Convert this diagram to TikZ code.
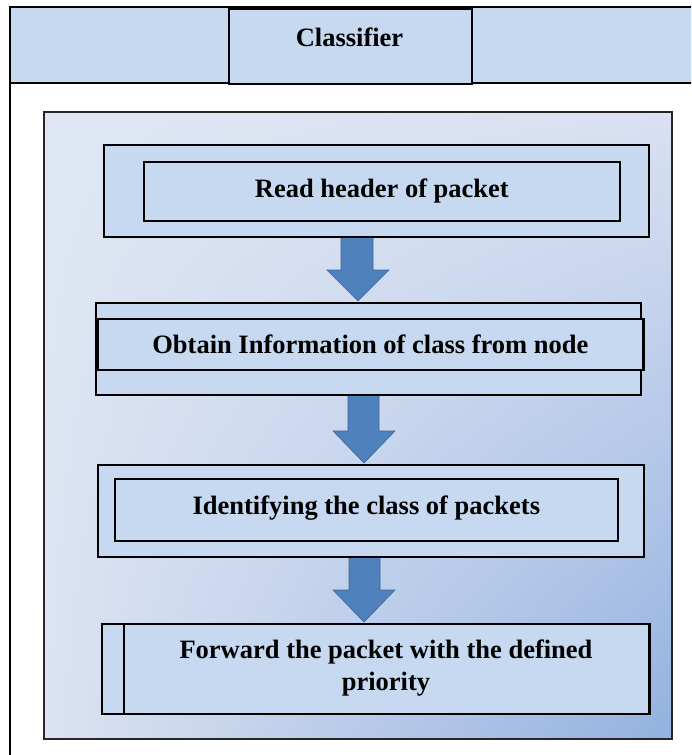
\documentclass[tikz,border=0pt]{standalone}
\usepackage{fontspec}
\setmainfont{Liberation Serif}
\usetikzlibrary{shadings}
\definecolor{boxblue}{HTML}{C6D9F1}
\definecolor{arrowblue}{HTML}{4F81BD}
\definecolor{arrowedge}{HTML}{3D6699}
\definecolor{gUL}{HTML}{DFE6F3}
\definecolor{gUR}{HTML}{D9E1F2}
\definecolor{gLL}{HTML}{DCE3F2}
\definecolor{gLR}{HTML}{93B1DF}
\begin{document}
\begin{tikzpicture}[x=1pt,y=-1pt,
  boxline/.style={draw=black,line width=1.7pt,fill=boxblue,inner sep=0pt,anchor=north west},
  lbl/.style={font=\fontsize{26.5}{32}\selectfont\bfseries,align=center,text=black},
  blockarrow/.style={fill=arrowblue,draw=arrowedge,line width=0.6pt}]
\useasboundingbox (0,0) rectangle (691,755);
\clip (0,0) rectangle (691,755);
\fill[white] (0,0) rectangle (691,755);
% header band
\fill[boxblue] (10,7) rectangle (700,83);
\draw[line width=1.8pt] (700,7) -- (10,7) -- (10,760);
\draw[line width=1.8pt] (10,83) -- (700,83);
\node[boxline,line width=2.2pt,minimum width=243pt,minimum height=75pt] (cls) at (228,7.5) {};
\node[lbl] (clstext) at (349.5,37) {Classifier};
% gradient frame
\shade[upper left=gUL,upper right=gUR,lower left=gLL,lower right=gLR] (44,112) rectangle (672,739);
\draw[line width=1.6pt,draw=black!85] (44,112) rectangle (672,739);
% block arrows
\fill[blockarrow] (341,236) -- (341,270) -- (327,270) -- (358,301) -- (389,270) -- (373,270) -- (373,236) -- cycle;
\fill[blockarrow] (348,394) -- (348,431) -- (333,431) -- (364,463) -- (395,431) -- (379,431) -- (379,394) -- cycle;
\fill[blockarrow] (349,556) -- (349,590) -- (333,590) -- (364,622) -- (395,590) -- (380,590) -- (380,556) -- cycle;
% box 1
\node[boxline,minimum width=545pt,minimum height=92pt] (b1o) at (103,144) {};
\node[boxline,minimum width=476pt,minimum height=59pt] (b1i) at (143,161) {};
\node[lbl] (t1) at (b1i.center) {Read header of packet};
% box 2
\node[boxline,minimum width=545pt,minimum height=92pt] (b2o) at (95,302) {};
\node[boxline,minimum width=545pt,minimum height=51pt] (b2i) at (97,318) {};
\draw[line width=3pt] (b2i.north east) -- (b2i.south east);
\node[lbl] (t2) at (b2i.center) {Obtain Information of class from node};
% box 3
\node[boxline,minimum width=546pt,minimum height=92pt] (b3o) at (97,464) {};
\node[boxline,minimum width=503pt,minimum height=62pt] (b3i) at (114,478) {};
\node[lbl] (t3) at ([yshift=2pt]b3i.center) {Identifying the class of packets};
% box 4
\node[boxline,minimum width=547pt,minimum height=90pt] (b4) at (101,623) {};
\coordinate (d4t) at (124,623);
\coordinate (d4b) at (124,713);
\draw[line width=1.7pt] (d4t) -- (d4b);
\draw[line width=3pt] (b4.north east) -- (b4.south east);
\node[lbl] (t4) at (386,668) {Forward the packet with the defined\\priority};
\end{tikzpicture}
\end{document}
